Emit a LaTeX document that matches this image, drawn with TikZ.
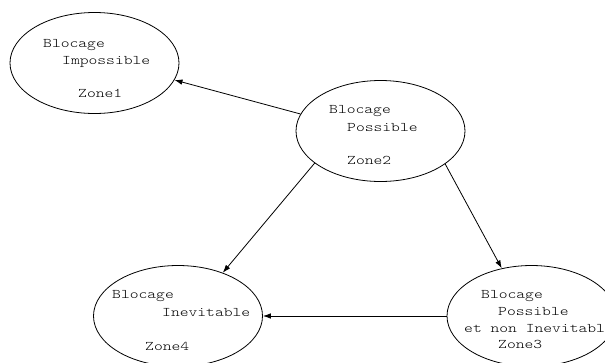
\documentclass[tikz,border=0pt]{standalone}
\usepackage{fontspec}
\newfontfamily\courfont[FakeStretch=1.27]{Latin Modern Mono Light}
\usetikzlibrary{shapes.geometric,arrows.meta}
\tikzset{
  zone/.style={draw, ellipse, line width=0.8pt, minimum width=169pt, minimum height=101pt, inner sep=0pt},
  lbl/.style={anchor=base west, inner sep=0pt, font=\courfont\fontsize{13.2}{16}\selectfont},
  arr/.style={line width=0.8pt, -{Latex[length=8pt,width=5.5pt]}}
}
\begin{document}
\begin{tikzpicture}[x=1pt,y=-1pt]
\useasboundingbox (0,0) rectangle (605,362);
\node[zone] (z1) at (94.5,63) {};
\node[zone] (z2) at (380.5,131) {};
\node[zone] (z4) at (178,316) {};
\node[zone] (z3) at (531.5,316) {};
% texts
\node[lbl] (t1a) at (43,47) {Blocage};
\node[lbl] (t1b) at (62,64) {Impossible};
\node[lbl] (t1c) at (78,97) {Zone1};
\node[lbl] (t2a) at (329,113) {Blocage};
\node[lbl] (t2b) at (347,131) {Possible};
\node[lbl] (t2c) at (347,164) {Zone2};
\node[lbl] (t4a) at (112,298) {Blocage};
\node[lbl] (t4b) at (162,316) {Inevitable};
\node[lbl] (t4c) at (145,350) {Zone4};
\node[lbl] (t3a) at (481,298) {Blocage};
\node[lbl] (t3b) at (498,315) {Possible};
\node[lbl] (t3c) at (464,332) {et non Inevitabl};
\node[lbl] (t3d) at (498,348) {Zone3};
% arrows
\draw[arr] (z2.168.5) -- (z1.-12.4);
\draw[arr] (z2.206.3) -- (z4.44.8);
\draw[arr] (z2.-27) -- (z3.122.7);
\draw[arr] (z3.180) -- (z4.0);
\end{tikzpicture}
\end{document}
